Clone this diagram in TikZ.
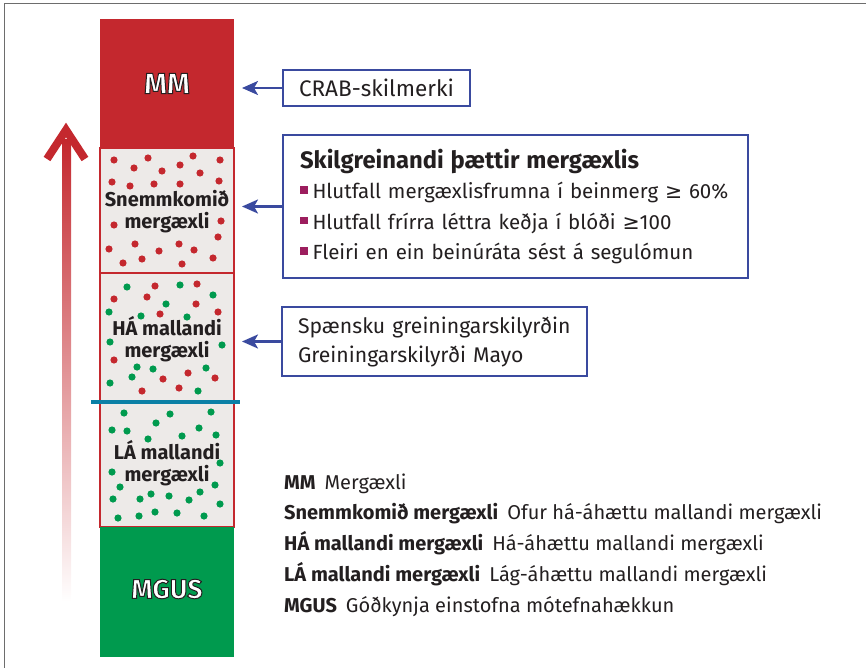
\documentclass[tikz,border=0pt]{standalone}
\usepackage{fontspec}
\setmainfont{Fira Sans}
\newfontfamily\symfont{DejaVu Sans}
\usetikzlibrary{positioning, arrows.meta, calc}
\definecolor{mmred}{HTML}{C4282E}
\definecolor{mgusgreen}{HTML}{009A4E}
\definecolor{cellgray}{HTML}{EDEAE8}
\definecolor{boxblue}{HTML}{3A4A9F}
\definecolor{cutblue}{HTML}{0B80A6}
\definecolor{bulletred}{HTML}{9C1E5E}
\definecolor{inkdark}{HTML}{231F20}
\definecolor{framegray}{HTML}{6D6D6D}
\newcommand{\sq}{\textcolor{bulletred}{\raisebox{5pt}{\rule{7.5pt}{7.5pt}}}\hspace{5pt}}
\newcommand{\geqsym}{{\symfont\char"2265}}
% hvitir stafir med dokkri utlinu
\newcommand{\outlined}[1]{\special{pdf:literal direct 2 Tr 1 w 0.137 0.122 0.125 RG}#1\special{pdf:literal direct 0 Tr}}
\tikzstyle{stagebox} = [rectangle, minimum width=134pt, inner sep=0pt, outer sep=0pt]
\tikzstyle{cellbox} = [stagebox, fill=cellgray, draw=mmred, line width=1.5pt]
\tikzstyle{bigname} = [text=white, font=\fontsize{27}{30}\selectfont\bfseries]
\tikzstyle{cellname} = [text=inkdark, align=center, font=\fontsize{20}{22}\selectfont\bfseries]
\tikzstyle{infobox} = [rectangle, draw=boxblue, line width=2pt, fill=white, align=left, inner xsep=16pt, text=inkdark]
\tikzstyle{pointer} = [draw=boxblue, line width=2.5pt, -{Stealth[length=16pt,width=14pt,inset=4pt]}, shorten >=8pt]
\tikzstyle{legendline} = [anchor=west, inner sep=0pt, text height=14pt, text depth=4pt, text=inkdark, font=\fontsize{20}{22}\selectfont]

\begin{document}
\begin{tikzpicture}[x=1pt, y=-1pt]
    \useasboundingbox (0,0) rectangle (866,668);
    \draw[framegray, line width=1.8pt] (4.5,668) -- (4.5,3.5) -- (866,3.5);

    % stolpinn
    \node (mm) [stagebox, fill=mmred, minimum height=129pt] at (167,83.5) {};
    \node (snemm) [cellbox, minimum height=125pt] at (167,210.5) {};
    \node (ha) [cellbox, minimum height=129pt] at (167,337.5) {};
    \node (la) [cellbox, minimum height=125pt] at (167,464.5) {};
    \node (mgus) [stagebox, fill=mgusgreen, minimum height=130pt] at (167,592) {};
    \draw[cutblue, line width=3.3pt] ([xshift=-9pt]ha.south west) -- ([xshift=6pt]ha.south east);

    % frumur
    \foreach \x/\y in {114/160,148/158,193/156,220/160,134/168,162/171,180/165,200/173,112/182,130/186,154/184,180/184,219/181,
        114/225,221/221,218/237,135/244,179/244,109/249,159/251,194/250,123/263,142/259,182/264,213/258,
        155/286,197/284,114/299,147/297,196/304,160/314,218/312,114/360,163/379,188/373,215/378,142/391,179/388}
        \fill[mmred] (\x,\y) circle (3.6pt);
    \foreach \x/\y in {127/287,180/285,213/295,166/304,109/312,141/316,187/317,110/342,222/345,137/367,153/369,206/368,110/383,132/377,198/391,
        124/413,170/414,211/412,156/423,112/430,127/431,199/428,148/439,182/436,216/435,220/463,112/472,120/487,215/485,
        113/499,140/499,151/494,169/496,189/500,200/492,220/504,118/518,139/516,155/512,177/513,204/516}
        \fill[mgusgreen] (\x,\y) circle (3.6pt);

    \node (mmtxt) [bigname, font=\fontsize{29}{30}\selectfont\bfseries] at (mm.center) {\outlined{MM}};
    \node (snemmtxt) [cellname] at (167,212) {Snemmkomið\\mergæxli};
    \node (hatxt) [cellname] at (167,339.5) {HÁ mallandi\\mergæxli};
    \node (latxt) [cellname] at (167,463.5) {LÁ mallandi\\mergæxli};
    \node (mgustxt) [bigname] at (167,589) {\outlined{MGUS}};

    % rauda orin
    \shade[top color=mmred, middle color=mmred!62!white, bottom color=white] (62,140) rectangle (71,602);
    \draw[mmred, line width=8pt, line join=miter] (47,159) -- (66,130) -- (85,159);

    % kassar
    \node (crab) [infobox, text width=155pt, minimum height=36pt, font=\fontsize{22.5}{24}\selectfont] at (376.5,88) {CRAB-skilmerki};
    \node (skil) [infobox, text width=431pt, minimum height=143pt, inner xsep=17pt, font=\fontsize{20.5}{30.5}\selectfont] at (515.5,206.5)
        {{\fontsize{23.8}{30.5}\selectfont\bfseries Skilgreinandi þættir mergæxlis}\\
         \sq Hlutfall mergæxlisfrumna í beinmerg \geqsym\ 60\%\\
         \sq Hlutfall frírra léttra keðja í blóði \geqsym100\\
         \sq Fleiri en ein beinúráta sést á segulómun};
    \node (spaen) [infobox, text width=273pt, minimum height=69pt, font=\fontsize{21.2}{29}\selectfont] at (434.5,341.5)
        {Spænsku greiningarskilyrðin\\Greiningarskilyrði Mayo};

    \draw [pointer] (crab.west) -- (crab.west -| mm.east);
    \draw [pointer] (skil.west) -- (skil.west -| snemm.east);
    \draw [pointer] (spaen.west) -- (spaen.west -| ha.east);

    % skyringar
    \node (leg1) [legendline] at (284,484) {\textbf{MM}\hspace{0.45em}Mergæxli};
    \node (leg2) [legendline, below=30.8pt of leg1.west, anchor=west] {\textbf{Snemmkomið mergæxli}\hspace{0.45em}Ofur há-áhættu mallandi mergæxli};
    \node (leg3) [legendline, below=30.8pt of leg2.west, anchor=west] {\textbf{HÁ mallandi mergæxli}\hspace{0.45em}Há-áhættu mallandi mergæxli};
    \node (leg4) [legendline, below=30.8pt of leg3.west, anchor=west] {\textbf{LÁ mallandi mergæxli}\hspace{0.45em}Lág-áhættu mallandi mergæxli};
    \node (leg5) [legendline, below=30.8pt of leg4.west, anchor=west] {\textbf{MGUS}\hspace{0.45em}Góðkynja einstofna mótefnahækkun};
\end{tikzpicture}
\end{document}
